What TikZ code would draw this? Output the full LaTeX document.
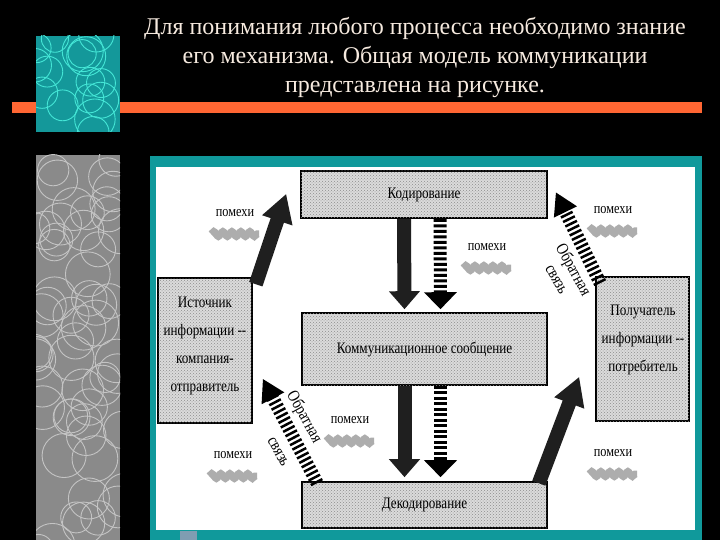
\documentclass[tikz,border=0pt]{standalone}
\usepackage{fontspec}
\setmainfont{Liberation Serif}
\newfontfamily\cond[FakeStretch=0.82]{Liberation Serif}
\usetikzlibrary{arrows.meta,calc,patterns,decorations.pathmorphing}
\definecolor{tealbg}{HTML}{14989A}
\definecolor{tealcirc}{HTML}{44E6D6}
\definecolor{stripgray}{HTML}{8A8A8A}
\definecolor{stripcirc}{HTML}{C4C4C4}
\definecolor{orangebar}{HTML}{FF6633}
\definecolor{titlecol}{HTML}{F6EADF}
\definecolor{frameteal}{HTML}{10999B}
\definecolor{steelblk}{HTML}{7F9DB2}
\tikzset{
  blk/.style={draw=black, line width=1.6pt, fill=black!14,
    postaction={pattern=crosshatch dots, pattern color=black!45},
    inner sep=0pt, font=\cond\fontsize{16}{20}\selectfont, align=center},
  boxtxt/.style={font=\cond\fontsize{16}{28}\selectfont, align=center, inner sep=0pt},
  darkarr/.style={draw=black!88, line width=14pt, -{Triangle[width=30pt,length=18pt]}},
  darkdiag/.style={draw=black!88, line width=14pt, -{Triangle[width=30pt,length=28pt]}},
  hatchv/.style={draw=black, line width=13pt, dash pattern=on 3pt off 2.5pt, -{Triangle[width=32pt,length=17pt]}},
  hatchd/.style={draw=black, line width=13pt, dash pattern=on 2.5pt off 2.5pt, -{Triangle[width=24pt,length=22pt]}},
  noisetxt/.style={font=\cond\fontsize{15}{17}\selectfont, inner sep=1pt},
  smudge/.style={draw=black!32, line width=7pt, decorate, decoration={snake, amplitude=2.5pt, segment length=9pt}},
  fbtxt/.style={font=\cond\fontsize{17}{19}\selectfont, rotate=-61, inner sep=0pt, align=center},
  circ/.style={line width=0.9pt}
}
\begin{document}
\begin{tikzpicture}[x=1pt,y=-1pt]
\useasboundingbox (0,0) rectangle (720,540);
\fill[black] (0,0) rectangle (720,540);
% orange bar and teal square
\fill[orangebar] (12,102) rectangle (702,113);
\fill[tealbg] (36,36) rectangle (120,132);
\begin{scope}
  \clip (36,36) rectangle (120,132);
  \pgfmathsetseed{11}
  \foreach \i in {1,...,16} {
    \pgfmathsetmacro\cx{30+96*rnd}
    \pgfmathsetmacro\cy{30+108*rnd}
    \pgfmathsetmacro\rr{13+8*rnd}
    \draw[circ, tealcirc] (\cx,\cy) circle[radius=\rr];
  }
\end{scope}
% gray strip
\fill[stripgray] (36,155) rectangle (120,540);
\begin{scope}
  \clip (36,155) rectangle (120,540);
  \pgfmathsetseed{5}
  \foreach \i in {1,...,55} {
    \pgfmathsetmacro\cx{30+96*rnd}
    \pgfmathsetmacro\cy{145+405*rnd}
    \pgfmathsetmacro\rr{15+8*rnd}
    \draw[circ, stripcirc] (\cx,\cy) circle[radius=\rr];
  }
\end{scope}
% title
\node[text=titlecol, font=\fontsize{24}{29}\selectfont, align=center] (title) at (415,58)
  {Для понимания любого процесса необходимо знание\\его механизма. Общая модель коммуникации\\представлена на рисунке.};
% picture frame
\fill[frameteal] (150,156) rectangle (702,540);
\fill[white] (156,167) rectangle (695,530);
\fill[steelblk] (180,531) rectangle (197,540);
% boxes
\node[blk, minimum width=246pt, minimum height=47pt] (cod) at (424,194.5) {Кодирование};
\node[blk, minimum width=245pt, minimum height=72pt] (msg) at (424.5,349) {Коммуникационное сообщение};
\node[blk, minimum width=245pt, minimum height=46pt] (dec) at (424.5,505) {Декодирование};
\node[blk, minimum width=94pt, minimum height=145pt] (src) at (205,350.5) {};
\node[boxtxt] (srct) at (205,346) {Источник\\информации --\\компания-\\отправитель};
\node[blk, minimum width=93pt, minimum height=144pt] (rcv) at (642.5,349) {};
\node[boxtxt] (rcvt) at (643,340) {Получатель\\информации --\\потребитель};
% vertical arrows
\draw[darkarr] ($(cod.south)+(-20,0)$) -- ($(msg.north)+(-20,-3)$);
\draw[hatchv] ($(cod.south)+(16,0)$) -- ($(msg.north)+(16,-3)$);
\draw[darkarr] ($(msg.south)+(-20,0)$) -- ($(dec.north)+(-20,-4)$);
\draw[hatchv] ($(msg.south)+(16,0)$) -- ($(dec.north)+(16,-4)$);
% diagonal dark arrows
\draw[darkdiag] ($(src.north east)+(3,7)$) -- ($(cod.south west)+(-14,-25)$);
\draw[darkdiag] ($(dec.north east)+(-9,2)$) -- ($(rcv.south west)+(-16,-45)$);
% feedback hatched arrows
\draw[hatchd] ($(rcv.north west)+(5,7)$) -- ($(cod.north east)+(8,22)$);
\draw[hatchd] ($(dec.north west)+(16,2)$) -- ($(src.south east)+(10,-45)$);
\node[fbtxt] (fb1) at (566,274) {Обратная\\связь};
\node[fbtxt] (fb2a) at (304,417) {Обратная};
\node[fbtxt] (fb2b) at (278,452) {связь};
% noise labels
\node[noisetxt] (n1) at (235,213) {помехи};
\node[noisetxt] (n2) at (487,247) {помехи};
\node[noisetxt] (n3) at (613,210) {помехи};
\node[noisetxt] (n4) at (350,420) {помехи};
\node[noisetxt] (n5) at (233,455) {помехи};
\node[noisetxt] (n6) at (613,453) {помехи};
\foreach \n in {n1,n2,n3,n4,n5,n6} {
  \draw[smudge] ($(\n)+(-24,21)$) -- ($(\n)+(24,21)$);
}
\end{tikzpicture}
\end{document}
